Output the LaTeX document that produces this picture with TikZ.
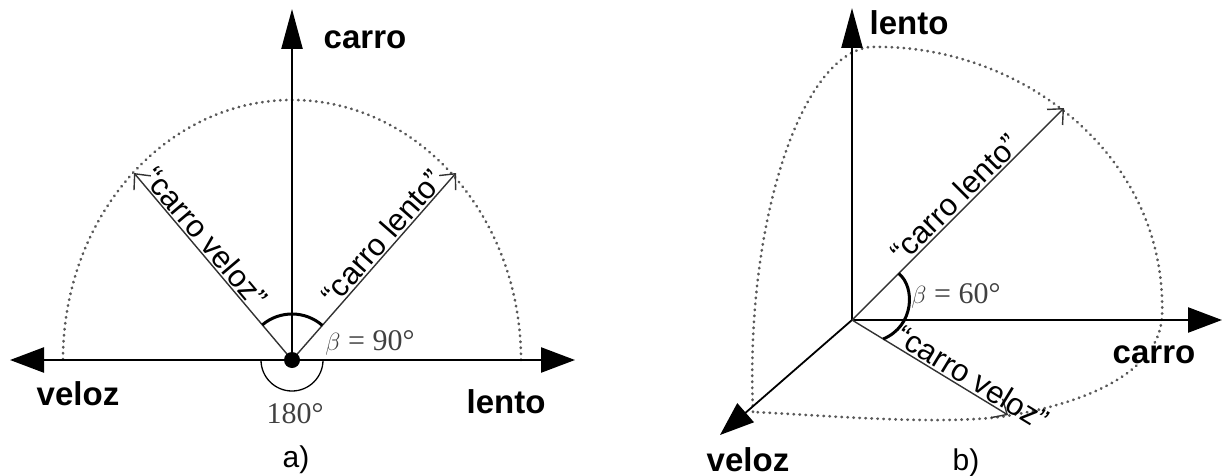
\documentclass[tikz,border=0pt]{standalone}
\usepackage{fontspec}
\setmainfont{Liberation Serif}
\newfontfamily\axisfont{Liberation Sans}
\usetikzlibrary{arrows.meta,calc}

\tikzset{
  axis/.style={line width=2.4pt,-{Triangle[length=34pt,width=25pt]}},
  vaxis/.style={line width=2.4pt,-{Triangle[length=40pt,width=21pt]}},
  vec/.style={line width=1.4pt,black!80,-{Straight Barb[length=12pt,width=22pt,line width=1.4pt]}},
  orbit/.style={black!65,line width=2.8pt,dash pattern=on 0.4pt off 5.6pt,line cap=round},
  axlabel/.style={font=\axisfont\bfseries\fontsize{33}{36}\selectfont,anchor=base,inner sep=1pt},
  veclabel/.style={font=\axisfont\fontsize{31}{34}\selectfont,anchor=south,inner sep=2pt},
  anglabel/.style={font=\fontsize{30}{32}\selectfont,text=black!75,anchor=base,inner sep=1pt},
  caplabel/.style={font=\axisfont\fontsize{30}{32}\selectfont,anchor=base,inner sep=1pt}
}

\begin{document}
\begin{tikzpicture}[x=1pt,y=1pt]
  \useasboundingbox (0,0) rectangle (1225,475);

  % a)
  \coordinate (Oa) at (292,115);
  \coordinate (carroA) at (292,466);
  \coordinate (velozA) at (10,115);
  \coordinate (lentoA) at (575,115);
  \coordinate (cvA) at (134,302);
  \coordinate (clA) at (456,302);

  \draw[orbit] (Oa) ++(229,0) arc[start angle=0,end angle=180,x radius=229,y radius=260];
  \draw[axis] (Oa) -- (velozA);
  \draw[axis] (Oa) -- (lentoA);
  \draw[vaxis] (Oa) -- (carroA);
  \draw[vec] (Oa) -- (cvA);
  \draw[vec] (Oa) -- (clA);
  \draw[line width=3pt] ($(Oa)+(48.7:46)$) arc[start angle=48.7,end angle=130.2,radius=46];
  \draw[line width=1.3pt] ($(Oa)+(180:31)$) arc[start angle=180,end angle=360,radius=31];
  \fill (Oa) circle[radius=8];

  \node[axlabel] (carroAl) at (365,426) {carro};
  \node[axlabel] (velozAl) at (78,70) {veloz};
  \node[axlabel] (lentoAl) at (506,62) {lento};
  \node[anglabel] (halfA) at (295,52) {180°};
  \node[anglabel] (betaA) at (370,125) {$\beta$ = 90°};
  \node[caplabel] (capA) at (296,8) {a)};
  \node[veclabel,rotate=-49.8] (cvAl) at ($(Oa)!0.61!(cvA)$) {“carro veloz”};
  \node[veclabel,rotate=48.7] (clAl) at ($(Oa)!0.61!(clA)$) {“carro lento”};

  % b)
  \coordinate (Ob) at (852,155);
  \coordinate (lentoB) at (852,467);
  \coordinate (carroB) at (1222,155);
  \coordinate (velozB) at (720,40);
  \coordinate (clB) at (1064,367);
  \coordinate (cvB) at (1008,60);

  \draw[orbit] (753,63) .. controls (745,250) and (800,420) .. (870,428)
    .. controls (1020,432) and (1168,320) .. (1162,158)
    .. controls (1158,100) and (1080,70) .. (1000,58)
    .. controls (930,50) and (820,60) .. (753,63);
  \draw[vaxis] (Ob) -- (lentoB);
  \draw[axis] (Ob) -- (carroB);
  \draw[axis,line width=1.8pt] (Ob) -- (velozB);
  \draw[vec] (Ob) -- (clB);
  \draw[vec] (Ob) -- (cvB);
  \draw[line width=3pt] ($(Ob)!0.22!(clB)$) .. controls +(17,-14) and +(31,13) .. ($(Ob)!0.2!(cvB)$);

  \node[axlabel] (lentoBl) at (909,440) {lento};
  \node[axlabel,fill=white] (carroBl) at (1154,112) {carro};
  \node[axlabel] (velozBl) at (748,4) {veloz};
  \node[caplabel] (capB) at (966,5) {b)};
  \node[anglabel] (betaB) at (956,172) {$\beta$ = 60°};
  \node[veclabel,rotate=45] (clBl) at ($(Ob)!0.53!(clB)$) {“carro lento”};
  \node[veclabel,rotate=-31.3] (cvBl) at ($(Ob)!0.73!(cvB)$) {“carro veloz”};
\end{tikzpicture}
\end{document}
